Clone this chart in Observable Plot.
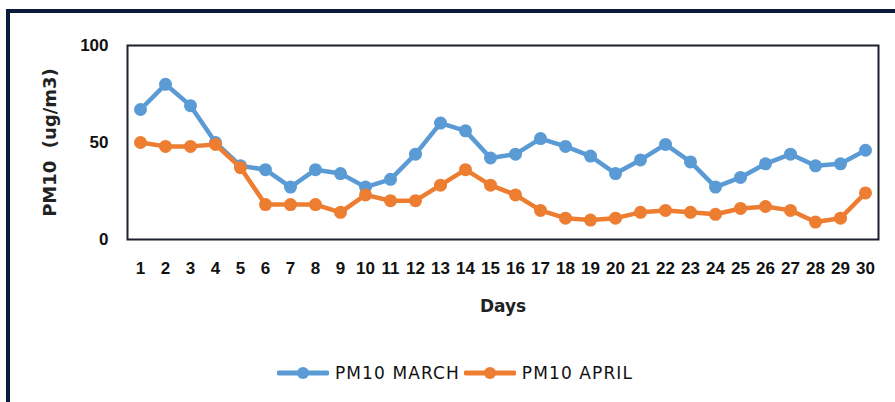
<!DOCTYPE html>
<html>
<head>
<meta charset="utf-8">
<script src="https://cdn.jsdelivr.net/npm/d3@7"></script>
<script src="https://cdn.jsdelivr.net/npm/@observablehq/plot@0.6"></script>
<style>
  html, body { margin: 0; padding: 0; background: #fff; width: 895px; height: 402px; overflow: hidden; }
  #box { position: absolute; left: 6px; top: 9px; width: 940px; height: 460px; border: 4px solid #0c1a3c; box-sizing: border-box; background: #fff; }
  #chart { position: absolute; left: 12px; top: 14px; }
  #legend { position: absolute; left: 0; top: 363px; width: 910px; display: flex; justify-content: center; align-items: center; font-family: "DejaVu Sans", sans-serif; font-size: 17px; letter-spacing: 1.1px; color: #111; }
  #legend .item { display: flex; align-items: center; margin: 0 2px; }
  #legend svg { margin-right: 6px; }
</style>
</head>
<body>
<div id="box"></div>
<div id="chart"></div>
<div id="legend"></div>
<script>
const days = [1,2,3,4,5,6,7,8,9,10,11,12,13,14,15,16,17,18,19,20,21,22,23,24,25,26,27,28,29,30];
const pm10March = [67,80,69,50,38,36,27,36,34,27,31,44,60,56,42,44,52,48,43,34,41,49,40,27,32,39,44,38,39,46];
const pm10April = [50,48,48,49,37,18,18,18,14,23,20,20,28,36,28,23,15,11,10,11,14,15,14,13,16,17,15,9,11,24];
const seriesNames = ["PM10 MARCH", "PM10 APRIL"];
const seriesColors = ["#5B9BD5", "#ED7D31"];
const yTicks = [0, 50, 100];

const rows = [
  ...days.map((d, i) => ({day: d, value: pm10March[i], series: seriesNames[0]})),
  ...days.map((d, i) => ({day: d, value: pm10April[i], series: seriesNames[1]}))
];
const march = rows.filter(r => r.series === seriesNames[0]);
const april = rows.filter(r => r.series === seriesNames[1]);

const chart = Plot.plot({
  width: 875,
  height: 311,
  marginLeft: 115,
  marginRight: 9,
  marginTop: 31,
  marginBottom: 86,
  style: "font-family: 'Liberation Sans', Arial, sans-serif; font-weight: bold; color: #111; background: transparent; overflow: visible;",
  x: {type: "point", domain: days, padding: 0.5},
  y: {domain: [0, 100]},
  marks: [
    Plot.axisX({ticks: days, tickSize: 0, tickPadding: 22, fontSize: 17, label: null, fill: "#111"}),
    Plot.axisY({ticks: yTicks, tickSize: 0, tickPadding: 19, fontSize: 17, label: null, fill: "#111"}),
    Plot.frame({stroke: "#1b1f2e", strokeWidth: 2}),
    Plot.line(march, {x: "day", y: "value", stroke: seriesColors[0], strokeWidth: 4.5}),
    Plot.dot(march, {x: "day", y: "value", r: 6.5, fill: seriesColors[0], stroke: "none"}),
    Plot.line(april, {x: "day", y: "value", stroke: seriesColors[1], strokeWidth: 4.5}),
    Plot.dot(april, {x: "day", y: "value", r: 6.5, fill: seriesColors[1], stroke: "none"}),
    Plot.text(["PM10  (ug/m3)"], {frameAnchor: "left", dx: -77, rotate: -90, fontFamily: "DejaVu Sans", fontWeight: "bold", fontSize: 18, fill: "#222", textAnchor: "middle"}),
    Plot.text(["Days"], {frameAnchor: "bottom", dy: 72, fontFamily: "DejaVu Sans", fontWeight: "bold", fontSize: 17, fill: "#222"})
  ]
});
document.getElementById("chart").appendChild(chart);

const legend = document.getElementById("legend");
seriesNames.forEach((name, i) => {
  const item = document.createElement("div");
  item.className = "item";
  item.innerHTML = `<svg width="52" height="16"><line x1="2" x2="50" y1="8" y2="8" stroke="${seriesColors[i]}" stroke-width="5" stroke-linecap="round"/><circle cx="26" cy="8" r="6" fill="${seriesColors[i]}"/></svg><span>${name}</span>`;
  legend.appendChild(item);
});
</script>
</body>
</html>
